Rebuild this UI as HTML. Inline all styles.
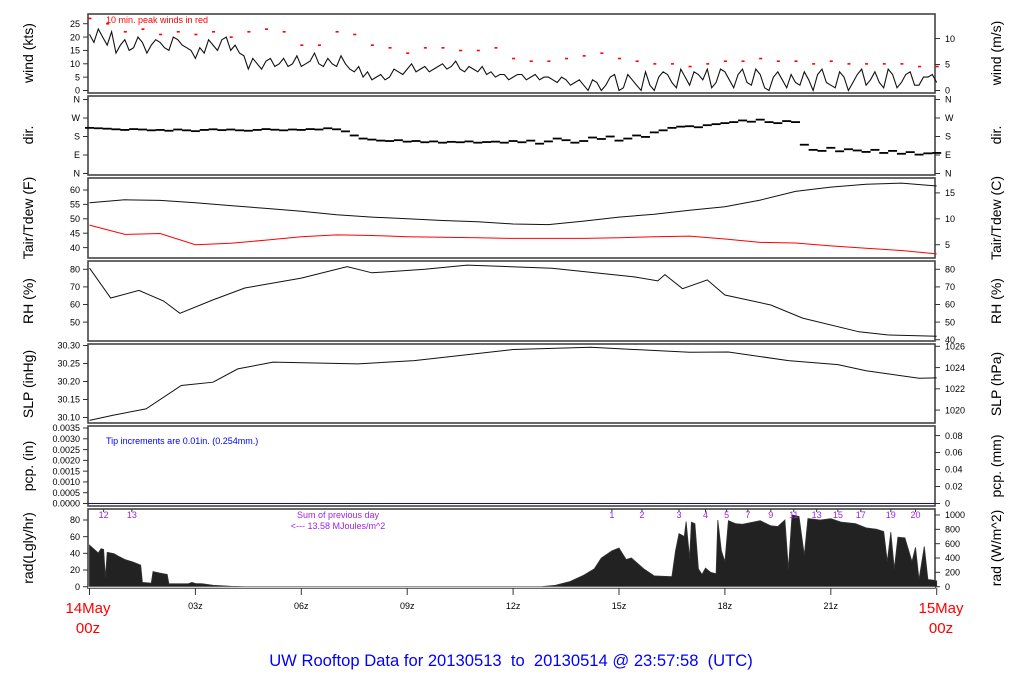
<!DOCTYPE html>
<html><head><meta charset="utf-8"><style>
html,body{margin:0;padding:0;background:#fff;width:1024px;height:700px;overflow:hidden}
svg text{font-family:"Liberation Sans",sans-serif;white-space:pre}
</style></head><body>
<svg id="c" width="1024" height="700" viewBox="0 0 1024 700" xmlns="http://www.w3.org/2000/svg"></svg>
<script>
// ---------- data ----------
const windKts=[21,18,23,20,17,22,14,17,19,15,16,20,18,14,17,19,
18,16,15,20,19,17,16,15,12,16,14,19,17,15,19,20,
15,17,14,13,8,12,10,8,11,12,9,10,12,9,10,13,
9,10,11,14,10,9,12,10,9,13,10,8,7,9,5,7,
4,5,6,4,5,8,7,6,8,10,7,8,9,7,8,9,
10,8,9,11,8,7,9,8,7,9,6,7,5,6,6,4,
5,6,6,4,5,6,4,5,5,4,3,5,4,2,3,4,
2,0,4,3,0,2,5,6,0,1,6,4,2,0,7,2,
0,5,7,6,3,1,8,5,2,7,6,4,8,1,3,8,
7,4,1,6,8,3,2,8,6,1,0,5,7,4,1,6,
3,2,7,4,0,6,8,3,2,1,7,5,0,3,6,8,
2,4,7,3,1,8,6,1,3,6,7,2,2,5,5,6,
3];
const peakKts=[27,25,22,23,21,22,21,22,20,22,23,22,17,17,22,21,17,16,14,16,16,15,15,16,12,11,11,12,13,14,12,11,10,10,9,10,11,11,12,11,11,10,11,10,10,10,10,9,9];
const dirDeg=[222,220,218,215,212,216,214,210, 212,208,214,210,206,212,215,211, 214,210,208,212,216,213,210,214, 212,216,214,220,215,205,185,170, 165,160,158,162,155,158,152,156, 150,154,152,156,150,153,155,150, 158,152,160,145,156,170,162,150, 158,175,168,180,160,170,185,178, 200,210,222,228,230,225,235,240, 245,250,258,252,262,250,245,255, 250,140,115,110,125,108,118,112, 105,115,100,110,96,104,92,98, 100];
const tairF=[55.6,56.6,56.4,55.6,54.6,53.6,52.6,51.4,50.6,50.0,49.4,49.0,48.2,48.0,49.2,50.6,51.6,53.0,54.2,56.5,59.5,61.0,62.0,62.4,61.4];
const tdewF=[47.8,44.6,44.9,41.0,41.5,42.6,43.8,44.4,44.2,43.8,43.6,43.4,43.2,43.2,43.2,43.4,43.8,44.0,43.0,41.8,41.6,40.6,39.8,39.0,37.8];
const rhT=[0,0.6,1.4,2.1,2.56,3.5,4.4,6.0,7.3,8.0,9.5,10.7,13.1,15.4,16.1,16.3,16.8,17.5,18.0,19.3,20.2,21.8,22.6,24];
const rhV=[80.7,63.7,68,62,55,62.6,69.4,75,81.5,78,80,82.4,80.6,75.8,73.4,77,69,74,65.4,59.7,52.3,44.5,42.7,42];
const slpT=[0,0.7,1.6,2.6,3.5,4.2,5.2,7.6,9.2,12,14.2,17,18.1,19.8,21.2,22,23.5,24];
const slpV=[30.092,30.107,30.124,30.189,30.198,30.235,30.254,30.249,30.258,30.289,30.295,30.281,30.282,30.258,30.247,30.23,30.209,30.21];
const radT=[0,0.25,0.33,0.4,0.45,0.5,0.6,0.7,0.8,1.0,1.25,1.45,1.5,1.75,1.8,2.0,2.2,2.25,2.8,2.9,3.0,3.2,3.5,4.0,4.4,12.8,13.2,13.6,14.0,14.3,14.5,14.8,15.0,15.2,15.35,15.7,16.0,16.5,16.6,16.7,16.85,16.9,17.0,17.05,17.15,17.25,17.35,17.45,17.6,17.75,17.8,17.9,18.0,18.1,18.3,18.5,18.8,19.0,19.3,19.5,19.7,19.8,19.9,20.1,20.25,20.35,20.7,21.0,21.3,21.7,22.0,22.3,22.5,22.6,22.7,22.8,22.9,23.1,23.3,23.4,23.5,23.65,23.75,23.9,24.0];
const radW=[580,470,530,520,130,480,470,460,430,380,340,300,60,50,210,190,170,40,40,60,45,40,20,5,0,0,20,70,160,250,400,500,540,380,400,250,150,140,500,740,700,910,400,900,880,250,170,260,200,180,930,500,350,920,880,870,900,920,850,840,930,250,1000,980,440,950,930,950,900,880,820,800,770,350,760,250,690,680,350,550,100,560,100,90,80];
const hourLabels=["03z","06z","09z","12z","15z","18z","21z"];
const sunLabels=["12","13","1","2","3","4","5","7","9","11","13","15","17","19","20"];
const sunHours=[0.4,1.2,14.8,15.65,16.7,17.45,18.05,18.65,19.3,19.95,20.6,21.2,21.85,22.7,23.4];

// ---------- helpers ----------
const S=document.getElementById('c');const NS='http://www.w3.org/2000/svg';
function el(t,a,txt){const e=document.createElementNS(NS,t);for(const k in a)e.setAttribute(k,a[k]);if(txt!==undefined)e.textContent=txt;S.appendChild(e);return e;}
const X0=88,X1=935;
const xs=h=>89.5+h*35.3;
function lin(v0,y0,v1,y1){return v=>y0+(v-v0)*(y1-y0)/(v1-v0);}
function panel(name,y0,y1){const r=el('rect',{x:X0,y:y0,width:X1-X0,height:y1-y0,fill:'none',stroke:'#444','stroke-width':1.6});

}
function ticks(side,vals,labels,ys,name){vals.forEach((v,i)=>{const y=ys(v);
if(side==='l'){el('line',{x1:X0-5,x2:X0,y1:y,y2:y,stroke:'#333'});const t=el('text',{x:X0-8,y:y+3.2,'font-size':9,'text-anchor':'end'},labels[i]);

}
else{el('line',{x1:X1,x2:X1+5,y1:y,y2:y,stroke:'#333'});const t=el('text',{x:X1+10,y:y+3.2,'font-size':9,'text-anchor':'start'},labels[i]);

}});}
function vlabel(x,y,txt,name){const t=el('text',{x:x,y:y,'font-size':14,'text-anchor':'middle',transform:`rotate(-90 ${x} ${y})`},txt);

}
function line(ts,vs,ys,color,name,w){const p=ts.map((t,i)=>`${xs(t).toFixed(1)},${ys(vs[i]).toFixed(1)}`).join(' ');
const e=el('polyline',{points:p,fill:'none',stroke:color,'stroke-width':w||1});

}
const step=(n,d)=>Array.from({length:n},(_,i)=>i*d);
const LX=33,RX=1001;

// ---------- wind ----------
panel('wind-panel',14,93);
const yW=lin(0,90.5,25,23.7);
ticks('l',[0,5,10,15,20,25],['0','5','10','15','20','25'],yW,'wind-tick-label');
ticks('r',[0,5,10],['0','5','10'],v=>yW(v*1.944),'wind-ms-tick-label');
line(step(193,0.125),windKts,yW,'#111','wind-series',1.1);
peakKts.forEach((v,i)=>{const r=el('rect',{x:xs(i*0.5)-1,y:yW(v)-0.7,width:3,height:1.6,fill:'#f00'});

});
const wt=el('text',{x:106,y:23,'font-size':9,fill:'#f00'},'10 min. peak winds in red');


vlabel(LX,53,'wind (kts)','wind-axis-title');vlabel(RX,53,'wind (m/s)','wind-ms-axis-title');

// ---------- dir ----------
panel('dir-panel',96,175);
const yD=lin(0,173.5,360,99.5);
ticks('l',[0,90,180,270,360],['N','E','S','W','N'],yD,'dir-tick-label');
ticks('r',[0,90,180,270,360],['N','E','S','W','N'],yD,'dir-tick-label-right');
dirDeg.forEach((v,i)=>{const r=el('rect',{x:xs(i*0.25)-4.5,y:yD(v)-0.9,width:9,height:1.8,fill:'#000'});

});
vlabel(LX,135,'dir.','dir-axis-title');vlabel(RX,135,'dir.','dir-axis-title-right');

// ---------- temp ----------
panel('temp-panel',178,258);
const yT=lin(60,190,40,247.6);
ticks('l',[40,45,50,55,60],['40','45','50','55','60'],yT,'temp-f-tick-label');
ticks('r',[5,10,15],['5','10','15'],c=>yT(c*1.8+32),'temp-c-tick-label');
line(step(25,1),tairF,yT,'#111','tair-series');
line(step(25,1),tdewF,yT,'#f00','tdew-series');
vlabel(LX,218,'Tair/Tdew (F)','temp-axis-title');vlabel(RX,218,'Tair/Tdew (C)','temp-c-axis-title');

// ---------- RH ----------
panel('rh-panel',261,341);
const yR=lin(80,269.3,40,339.7);
ticks('l',[50,60,70,80],['50','60','70','80'],yR,'rh-tick-label');
ticks('r',[40,50,60,70,80],['40','50','60','70','80'],yR,'rh-tick-label-right');
line(rhT,rhV,yR,'#111','rh-series');
vlabel(LX,301,'RH (%)','rh-axis-title');vlabel(RX,301,'RH (%)','rh-axis-title-right');

// ---------- SLP ----------
panel('slp-panel',344,423);
const yP=lin(30.30,345.5,30.10,417.5);
ticks('l',[30.10,30.15,30.20,30.25,30.30],['30.10','30.15','30.20','30.25','30.30'],yP,'slp-tick-label');
ticks('r',[1020,1022,1024,1026],['1020','1022','1024','1026'],h=>yP(h*0.02953),'slp-hpa-tick-label');
line(slpT,slpV,yP,'#111','slp-series');
vlabel(LX,384,'SLP (inHg)','slp-axis-title');vlabel(RX,384,'SLP (hPa)','slp-hpa-axis-title');

// ---------- pcp ----------
panel('pcp-panel',426,506);
const yC=lin(0,503.5,0.0035,428);
const pv=[0,0.0005,0.001,0.0015,0.002,0.0025,0.003,0.0035];
ticks('l',pv,pv.map(v=>v.toFixed(4)),yC,'pcp-tick-label');
const mv=[0,0.02,0.04,0.06,0.08];
ticks('r',mv,['0','0.02','0.04','0.06','0.08'],m=>yC(m/25.4),'pcp-mm-tick-label');
const pl=el('line',{x1:X0,x2:X1,y1:yC(0),y2:yC(0),stroke:'#00f','stroke-width':1});


const pt=el('text',{x:106,y:444,'font-size':9,fill:'#00f'},'Tip increments are 0.01in. (0.254mm.)');


vlabel(LX,466,'pcp. (in)','pcp-axis-title');vlabel(RX,466,'pcp. (mm)','pcp-mm-axis-title');

// ---------- rad ----------
panel('rad-panel',509,588);
const yRad=lin(0,586.7,1000,515);
ticks('l',[0,20,40,60,80],['0','20','40','60','80'],v=>yRad(v*11.63),'rad-lgly-tick-label');
ticks('r',[0,200,400,600,800,1000],['0','200','400','600','800','1000'],yRad,'rad-wm2-tick-label');
const rp='M'+xs(0)+','+yRad(0)+' '+radT.map((t,i)=>`L${xs(t).toFixed(1)},${yRad(radW[i]).toFixed(1)}`).join(' ')+` L${xs(24)},${yRad(0)} Z`;
const ra=el('path',{d:rp,fill:'#222',stroke:'#333','stroke-width':0.8});


el('line',{x1:X0,x2:X1,y1:yRad(0)+0.5,y2:yRad(0)+0.5,stroke:'#fff','stroke-width':1});
sunLabels.forEach((s,i)=>{const x=xs(sunHours[i]);el('line',{x1:x,x2:x,y1:509,y2:512,stroke:'#333'});
const t=el('text',{x:x,y:518,'font-size':9,fill:'#a020f0','text-anchor':'middle'},s);

});
const s1=el('text',{x:338,y:518,'font-size':9,fill:'#a020f0','text-anchor':'middle'},'Sum of previous day');


const s2=el('text',{x:338,y:529,'font-size':9,fill:'#a020f0','text-anchor':'middle'},'<--- 13.58 MJoules/m^2');


vlabel(LX,548,'rad(Lgly/hr)','rad-axis-title');vlabel(RX,548,'rad (W/m^2)','rad-wm2-axis-title');

// ---------- x axis ----------
for(let h=0;h<=24;h+=3){const x=xs(h);el('line',{x1:x,x2:x,y1:588,y2:595,stroke:'#333'});
if(h>0&&h<24){const t=el('text',{x:x,y:609,'font-size':9,'text-anchor':'middle'},hourLabels[h/3-1]);

}}
[['14May',88,613],['00z',88,633],['15May',941,613],['00z',941,633]].forEach(a=>{const t=el('text',{x:a[1],y:a[2],'font-size':15,fill:'#f00','text-anchor':'middle'},a[0]);

});
const ti=el('text',{x:511,y:666,'font-size':16.6,fill:'#00f','text-anchor':'middle'},'UW Rooftop Data for 20130513  to  20130514 @ 23:57:58  (UTC)');


</script>
</body></html>
